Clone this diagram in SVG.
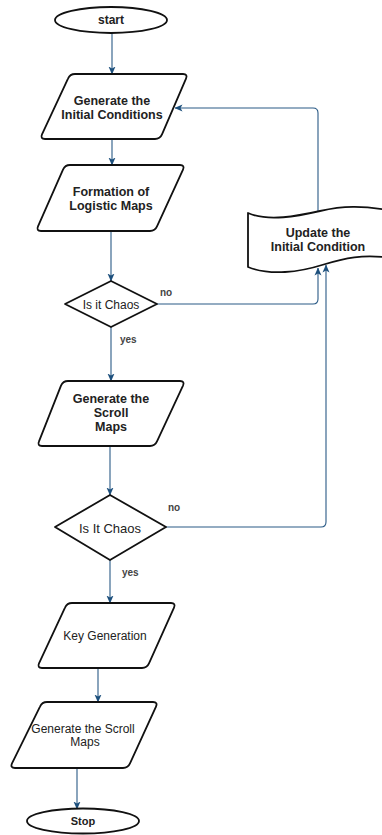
<svg xmlns="http://www.w3.org/2000/svg" width="382" height="835" viewBox="0 0 382 835">
<defs>
<marker id="arr" markerWidth="8" markerHeight="8" refX="7.5" refY="4" orient="auto" markerUnits="userSpaceOnUse">
<path d="M0,0.5 L8,4 L0,7.5 L2,4 Z" fill="#1c4f7c"/>
</marker>
<style>
.shape{fill:#fff;stroke:#111;stroke-width:1.8;stroke-linejoin:round}
.conn{fill:none;stroke:#2a5a86;stroke-width:1.1;marker-end:url(#arr)}
.b{font-family:"Liberation Sans",Arial,sans-serif;font-size:12.5px;font-weight:bold;fill:#222;text-anchor:middle;dominant-baseline:central}
.r{font-family:"Liberation Sans",Arial,sans-serif;font-size:12px;fill:#222;text-anchor:middle;dominant-baseline:central}
.lbl{font-family:"Liberation Sans",Arial,sans-serif;font-size:10px;font-weight:bold;fill:#444;dominant-baseline:central}
</style>
</defs>
<rect width="382" height="835" fill="#fff"/>
<g id="connectors">
<path class="conn" d="M112,33 V74"/>
<path class="conn" d="M112,139 V165"/>
<path class="conn" d="M111,231 V281"/>
<path class="conn" d="M157,304 H313 Q318,304 318,299 V268"/>
<path class="conn" d="M111,327 V381"/>
<path class="conn" d="M110,446 V495"/>
<path class="conn" d="M166,527 H321 Q326,527 326,522 V265"/>
<path class="conn" d="M318,212 V113 Q318,108 313,108 H175"/>
<path class="conn" d="M110,560 V603"/>
<path class="conn" d="M98,668 V702"/>
<path class="conn" d="M77,768 V809"/>
<text class="lbl" x="160" y="292">no</text>
<text class="lbl" x="120" y="339">yes</text>
<text class="lbl" x="168" y="507">no</text>
<text class="lbl" x="122" y="572">yes</text>
</g>
<g id="start">
<ellipse class="shape" cx="111" cy="20" rx="56" ry="13"/>
<text class="b" x="111" y="20" style="font-size:12px">start</text>
</g>
<g id="gen-initial">
<path class="shape" d="M75,74 H183 Q188,74 186,78.6 L162,134.4 Q160,139 155,139 H45 Q40,139 42,134.4 L68,78.6 Q70,74 75,74 Z"/>
<text class="b" x="112" y="101">Generate the</text>
<text class="b" x="112" y="115">Initial Conditions</text>
</g>
<g id="logistic">
<path class="shape" d="M70,165 H180 Q185,165 183,169.6 L157,226.4 Q155,231 150,231 H41 Q36,231 38,226.4 L63,169.6 Q65,165 70,165 Z"/>
<text class="b" x="111" y="192">Formation of</text>
<text class="b" x="111" y="206">Logistic Maps</text>
</g>
<g id="chaos1">
<polygon class="shape" points="111,281 157,304 111,327 65,304"/>
<text class="r" x="111" y="305">Is it Chaos</text>
</g>
<g id="update">
<path class="shape" d="M248,213 C268,222 298,216 320,211 C342,206 362,205 392,211 L392,258 C362,254 345,258 322,265 C300,272 270,276 248,267 Z"/>
<text class="b" x="318" y="233">Update the</text>
<text class="b" x="318" y="247">Initial Condition</text>
</g>
<g id="scroll1">
<path class="shape" d="M68,381 H180 Q185,381 183,385.6 L157,441.4 Q155,446 150,446 H42 Q37,446 39,441.4 L61,385.6 Q63,381 68,381 Z"/>
<text class="b" x="111" y="399">Generate the</text>
<text class="b" x="111" y="413">Scroll</text>
<text class="b" x="111" y="427">Maps</text>
</g>
<g id="chaos2">
<polygon class="shape" points="110,495 166,527 110,560 55,527"/>
<text class="r" x="110" y="528" style="font-size:13px">Is It Chaos</text>
</g>
<g id="keygen">
<path class="shape" d="M72,603 H171 Q176,603 174,607.6 L149,663.4 Q147,668 142,668 H42 Q37,668 39,663.4 L65,607.6 Q67,603 72,603 Z"/>
<text class="r" x="105" y="636">Key Generation</text>
</g>
<g id="scroll2">
<path class="shape" d="M47,702 H153 Q158,702 156,706.6 L130,763.4 Q128,768 123,768 H15 Q10,768 12,763.4 L40,706.6 Q42,702 47,702 Z"/>
<text class="r" x="83" y="729">Generate the Scroll</text>
<text class="r" x="85" y="742">Maps</text>
</g>
<g id="stop">
<ellipse class="shape" cx="83" cy="821" rx="56" ry="12.5"/>
<text class="b" x="83" y="821" style="font-size:11px">Stop</text>
</g>
</svg>
